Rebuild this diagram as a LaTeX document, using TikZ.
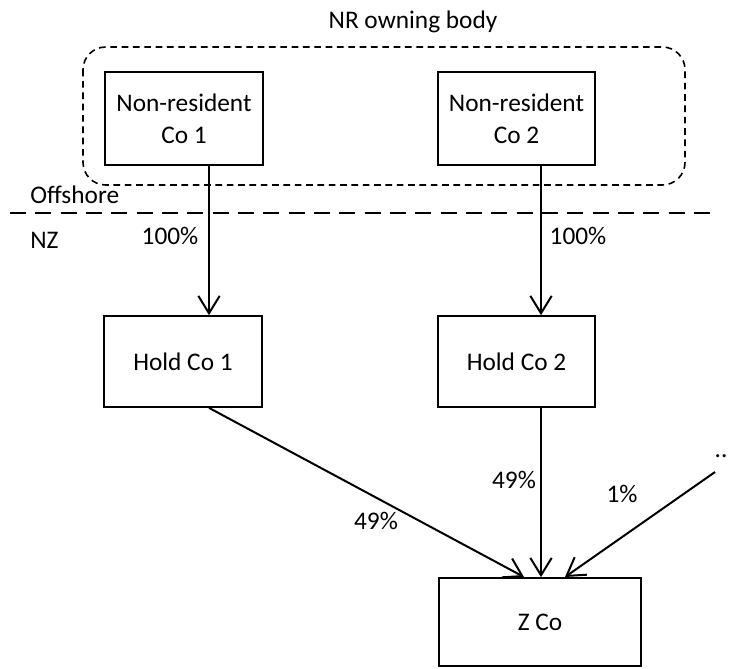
\documentclass[tikz,border=0pt]{standalone}
\usepackage{fontspec}
\setmainfont{Carlito}
\usetikzlibrary{arrows.meta}
\begin{document}
\begin{tikzpicture}[x=0.75pt,y=-0.75pt,
  every node/.style={font=\fontsize{19}{24}\selectfont, inner sep=0pt},
  entity/.style={draw, line width=1.3pt, align=center, minimum width=#1*0.75pt},
  entity/.default=158,
  arr/.style={line width=1.5pt, -{Straight Barb[length=13pt,width=16pt,line width=1.5pt]}},
  lbl/.style={anchor=center}]
  % page frame
  \fill[white] (0,0) rectangle (730,668);
  \useasboundingbox (0,0) rectangle (730,668);

  % owning body group and offshore/NZ divide
  \draw[line width=1.2pt, dash pattern=on 5pt off 3.5pt, rounded corners=17pt]
    (83,47) rectangle (685,185);
  \node[lbl] (body) at (413,22) {NR owning body};
  \draw[line width=1.2pt, dash pattern=on 12pt off 7pt] (10,213) -- (715,213);
  \node[anchor=west] (off) at (30,195) {Offshore};
  \node[anchor=west] (nz) at (30,240) {NZ};

  % companies
  \node[entity=158, minimum height=93*0.75pt] (nr1) at (184,118.5) {Non-resident\\Co 1};
  \node[entity=157, minimum height=93*0.75pt] (nr2) at (516.5,118.5) {Non-resident\\Co 2};
  \node[entity=158, minimum height=91*0.75pt] (h1) at (183,361.5) {Hold Co 1};
  \node[entity=157, minimum height=91*0.75pt] (h2) at (516.5,361.5) {Hold Co 2};
  \node[entity=202, minimum height=88*0.75pt] (z) at (540,622) {Z Co};

  % connector columns
  \coordinate (colA) at (209,0);
  \coordinate (colB) at (541,0);
  \coordinate (other) at (715,472);
  \coordinate (zin1) at (524,577);
  \coordinate (zin3) at (565,577);

  \draw[arr] (colA |- nr1.south) -- (colA |- h1.north);
  \draw[arr] (colB |- nr2.south) -- (colB |- h2.north);
  \draw[arr] (colA |- h1.south) -- (zin1);
  \draw[arr] (colB |- h2.south) -- (colB |- z.north);
  \draw[arr] (other) -- (zin3);

  % shareholdings
  \node[lbl] (p1) at (170,236) {100\%};
  \node[lbl] (p2) at (578,236) {100\%};
  \node[lbl] (p3) at (376,521) {49\%};
  \node[lbl] (p4) at (514,480) {49\%};
  \node[lbl] (p5) at (622,494) {1\%};
  \node[lbl] (dots) at (721,456) {..};
\end{tikzpicture}
\end{document}
